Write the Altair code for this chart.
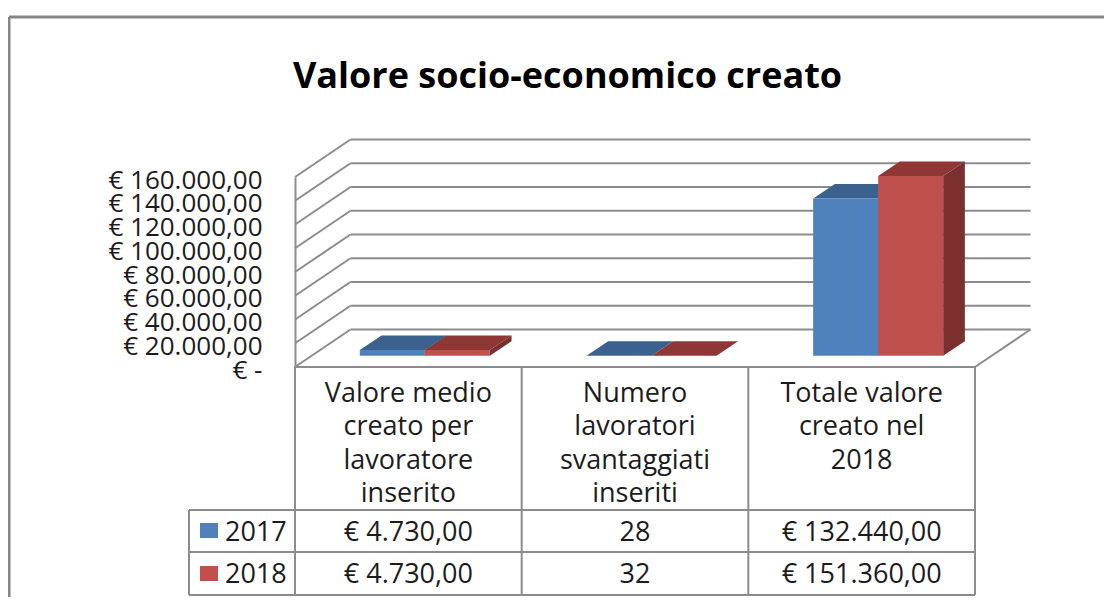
import altair as alt
import pandas as pd

# ---- chart values ----
categories = ["Valore medio creato per lavoratore inserito",
              "Numero lavoratori svantaggiati inseriti",
              "Totale valore creato nel 2018"]
category_lines = [["Valore medio", "creato per", "lavoratore", "inserito"],
                  ["Numero", "lavoratori", "svantaggiati", "inseriti"],
                  ["Totale valore", "creato nel", "2018"]]
series = ["2017", "2018"]
values_2017 = [4730, 28, 132440]
values_2018 = [4730, 32, 151360]
table_2017 = ["€ 4.730,00", "28", "€ 132.440,00"]
table_2018 = ["€ 4.730,00", "32", "€ 151.360,00"]
y_ticks = [0, 20000, 40000, 60000, 80000, 100000, 120000, 140000, 160000]

front_colors = ["#4F81BD", "#C0504D"]
top_colors = ["#3B618F", "#8F3735"]
side_colors = ["#3A5F8B", "#7A302E"]

# ---- layout ----
W, H = 680, 190              # front plane of the plot
PX_X = W / 3
PX_Y = H / 160000
FONT = "Open Sans"
GREY = "#8C8C8C"
TEXT = "#1C1C1C"


def ux(px):                  # pixels from plot left -> category units
    return px / PX_X


def uy(px):                  # pixels below plot bottom -> euro units
    return -px / PX_Y


WALL_DX, WALL_DY = ux(55.5), uy(-37.5)
BASE_DX, BASE_DY = ux(16.5), uy(-11.3)
DEPTH_DX, DEPTH_DY = ux(21.7), uy(-14.5)
BAR_W = ux(65)

label_expr = ("datum.value == 0 ? '€ -\u00a0\u00a0' : '€ ' + "
              "replace(format(datum.value, ',.0f'), ',', '.') + ',00'")
y_axis = alt.Axis(values=y_ticks, ticks=False, grid=False, labelExpr=label_expr, title=None,
                  labelFont=FONT, labelFontSize=26, labelColor=TEXT, labelPadding=33,
                  labelOverlap=False, labelOffset=3, domainColor=GREY, domainWidth=2)
x_scale = alt.Scale(domain=[0, 3], range=[0, W], nice=False, zero=False)
y_scale = alt.Scale(domain=[0, 160000], range=[H, 0], nice=False, zero=False)
X = lambda f: alt.X(f, type="quantitative", scale=x_scale, axis=None, title=None, stack=False)
Y = lambda f: alt.Y(f, type="quantitative", scale=y_scale, axis=y_axis, title=None, stack=False)


def segs(rows):
    return pd.DataFrame(rows, columns=["x", "x2", "y", "y2"])


def rules(df, width=2.0, color=GREY):
    return alt.Chart(df).mark_rule(color=color, strokeWidth=width).encode(
        x=X("x"), x2="x2", y=Y("y"), y2="y2")


# walls and floor
side = rules(segs([[0, WALL_DX, t, t + WALL_DY] for t in y_ticks]))
back = rules(segs([[WALL_DX, 3 + WALL_DX, t + WALL_DY, t + WALL_DY] for t in y_ticks]))
floor_edge = rules(segs([[3, 3 + WALL_DX, 0, WALL_DY]]))

# 3D bars
bar_layers = []
for s, (vals, front, top, sd) in enumerate(zip([values_2017, values_2018], front_colors,
                                               top_colors, side_colors)):
    fr = []
    for i, v in enumerate(vals):
        x0 = i + 0.5 + BASE_DX - BAR_W + s * BAR_W
        x1 = x0 + BAR_W
        y0, y1 = BASE_DY, BASE_DY + v
        fr.append({"x": x0, "x2": x1, "y": y0, "y2": y1})
        tp = pd.DataFrame([{"o": 0, "x": x0, "x2": x1, "y": y1},
                           {"o": 1, "x": x0 + DEPTH_DX, "x2": x1 + DEPTH_DX, "y": y1 + DEPTH_DY}])
        si = pd.DataFrame([{"o": 0, "x": x1, "y": y0, "y2": y1},
                           {"o": 1, "x": x1 + DEPTH_DX, "y": y0 + DEPTH_DY, "y2": y1 + DEPTH_DY}])
        bar_layers.append(alt.Chart(tp).mark_area(orient="horizontal", color=top).encode(
            x=X("x"), x2="x2", y=Y("y")))
        bar_layers.append(alt.Chart(si).mark_area(orient="vertical", color=sd).encode(
            x=X("x"), y=Y("y"), y2="y2"))
    bar_layers.append(alt.Chart(pd.DataFrame(fr)).mark_rect(color=front).encode(
        x=X("x"), x2="x2", y=Y("y"), y2="y2"))

# data table
ROWS = [uy(143), uy(185), uy(228)]
LEFT = ux(-106)
grid = rules(segs(
    [[i, i, 0, ROWS[-1]] for i in range(4)] +
    [[0, 3, 0, 0], [LEFT, 3, ROWS[0], ROWS[0]], [LEFT, 3, ROWS[1], ROWS[1]],
     [LEFT, 3, ROWS[2], ROWS[2]], [LEFT, LEFT, ROWS[0], ROWS[2]]]))


def texts(df, size=27, color=TEXT, align="center", weight="normal"):
    return alt.Chart(df).mark_text(font=FONT, fontSize=size, color=color, align=align,
                                   baseline="middle", fontWeight=weight).encode(
        x=X("x"), y=Y("y"), text="t:N")


head_df = pd.DataFrame([{"x": i + 0.5, "y": uy(27 + 33.4 * j), "t": line}
                        for i, lines in enumerate(category_lines) for j, line in enumerate(lines)])
cell_df = pd.DataFrame([{"x": i + 0.5, "y": uy(165.5 + 42 * r), "t": t}
                        for r, row in enumerate([table_2017, table_2018]) for i, t in enumerate(row)])
leg_txt_df = pd.DataFrame({"x": [ux(-70)] * 2, "y": [uy(165.5), uy(207.5)], "t": series})
swatches = [alt.Chart(pd.DataFrame([{"x": ux(-95), "x2": ux(-77), "y": uy(156 + 43 * k),
                                     "y2": uy(171 + 43 * k)}])).mark_rect(color=front_colors[k]).encode(
    x=X("x"), x2="x2", y=Y("y"), y2="y2") for k in range(2)]

# outer frame and title
frame = rules(segs([[ux(-286), ux(809), uy(-350), uy(-350)],
                    [ux(-286), ux(-286), uy(-350), uy(230)]]), width=3, color="#868686")
title = texts(pd.DataFrame({"x": [ux(272.5)], "y": [uy(-290.5)], "t": ["Valore socio-economico creato"]}),
              size=36, color="#000000", weight="bold")

chart = alt.layer(
    frame, side, back, floor_edge, *bar_layers, grid,
    texts(head_df), texts(cell_df), texts(leg_txt_df, align="left"), *swatches, title
).properties(
    width=W, height=H,
    padding={"left": 287, "top": 169, "right": 129, "bottom": 230},
    autosize=alt.AutoSizeParams(type="none", contains="content"),
    background="#FFFFFF",
).configure_view(stroke=None)

chart.save("out.html", embed_options={"renderer": "svg", "actions": False})
